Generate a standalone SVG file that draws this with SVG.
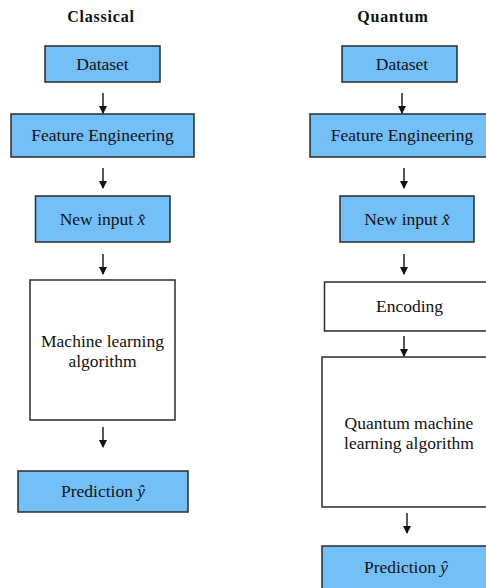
<svg xmlns="http://www.w3.org/2000/svg" width="486" height="588" viewBox="0 0 486 588">
<style>
.t{font-family:"Liberation Serif","DejaVu Serif",serif;font-size:17.5px;fill:#111;text-anchor:middle}
.h{font-family:"Liberation Serif","DejaVu Serif",serif;font-size:16px;font-weight:bold;fill:#111;text-anchor:middle;letter-spacing:0.8px}
.b{fill:#73bff8;stroke:#2b2b2b;stroke-width:1.5}
.w{fill:#fff;stroke:#2b2b2b;stroke-width:1.5}
.c{stroke:#111;stroke-width:1.4;fill:none}
</style>
<defs>
<marker id="ah" markerWidth="8" markerHeight="8" refX="7" refY="4" orient="auto" markerUnits="userSpaceOnUse">
<path d="M0,0 L8,4 L0,8 Z" fill="#111"/>
</marker>
</defs>
<rect width="486" height="588" fill="#fff"/>
<text class="h" x="101" y="22">Classical</text>
<text class="h" x="393" y="22">Quantum</text>
<g id="c-dataset"><rect class="b" x="45" y="46" width="115" height="36"/><text class="t" x="102.5" y="70">Dataset</text></g>
<g id="c-feature"><rect class="b" x="11" y="114" width="183" height="43"/><text class="t" x="102.5" y="141">Feature Engineering</text></g>
<g id="c-input"><rect class="b" x="35.5" y="196" width="134.5" height="46"/><text class="t" x="102.5" y="225">New input <tspan font-style="italic">x&#770;</tspan></text></g>
<g id="c-ml"><rect class="w" x="30" y="280" width="145" height="140"/><text class="t" x="102.5" y="347">Machine learning</text><text class="t" x="102.5" y="367">algorithm</text></g>
<g id="c-pred"><rect class="b" x="18" y="471" width="170" height="41"/><text class="t" x="103" y="497">Prediction <tspan font-style="italic">ŷ</tspan></text></g>
<g id="q-dataset"><rect class="b" x="342" y="46" width="115" height="36"/><text class="t" x="402" y="70">Dataset</text></g>
<g id="q-feature"><rect class="b" x="310" y="114" width="186" height="43"/><text class="t" x="402" y="141">Feature Engineering</text></g>
<g id="q-input"><rect class="b" x="340" y="196" width="134" height="46"/><text class="t" x="407" y="225">New input <tspan font-style="italic">x&#770;</tspan></text></g>
<g id="q-encoding"><rect class="w" x="324.5" y="282" width="172" height="49"/><text class="t" x="409.5" y="312">Encoding</text></g>
<g id="q-qml"><rect class="w" x="322" y="357" width="175" height="150"/><text class="t" x="409" y="429">Quantum machine</text><text class="t" x="409" y="449">learning algorithm</text></g>
<g id="q-pred"><rect class="b" x="322" y="546" width="170" height="46"/><text class="t" x="406" y="573">Prediction <tspan font-style="italic">ŷ</tspan></text></g>
<g id="connectors">
<line class="c" x1="103" y1="93" x2="103" y2="113" marker-end="url(#ah)"/>
<line class="c" x1="103" y1="168" x2="103" y2="188" marker-end="url(#ah)"/>
<line class="c" x1="103" y1="254" x2="103" y2="274" marker-end="url(#ah)"/>
<line class="c" x1="103" y1="427" x2="103" y2="447" marker-end="url(#ah)"/>
<line class="c" x1="402" y1="93" x2="402" y2="113" marker-end="url(#ah)"/>
<line class="c" x1="404" y1="168" x2="404" y2="188" marker-end="url(#ah)"/>
<line class="c" x1="404" y1="254" x2="404" y2="274" marker-end="url(#ah)"/>
<line class="c" x1="404" y1="336" x2="404" y2="356" marker-end="url(#ah)"/>
<line class="c" x1="407" y1="513" x2="407" y2="533" marker-end="url(#ah)"/>
</g>
</svg>
